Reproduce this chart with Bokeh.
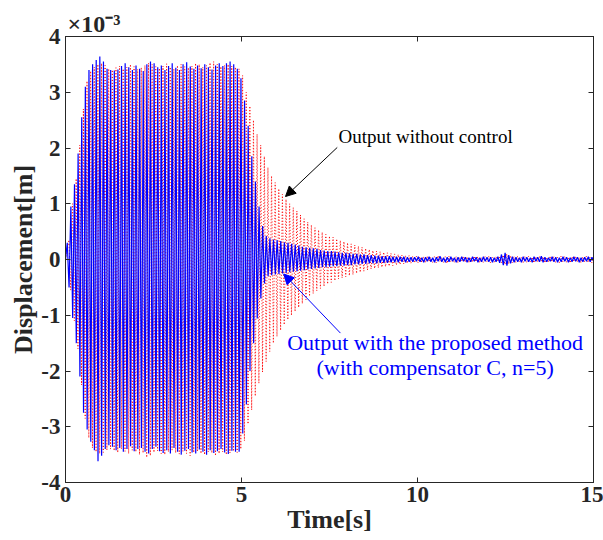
import numpy as np
from bokeh.plotting import figure
from bokeh.models import Range1d, LinearAxis, Label, Arrow, NormalHead, FixedTicker, Title
from bokeh.embed import file_html
from bokeh.resources import INLINE

# oscillation period [s] and time of first peak of each trace
period = 0.1028
blue_t0 = 0.05
red_t0 = 0.097

# per-cycle peak values, in units of 1e-3 m
blue_upper = [
    0.30, 0.95, 1.35, 1.90, 2.55, 3.10, 3.40, 3.50, 3.58, 3.64,
    3.55, 3.42, 3.40, 3.39, 3.41, 3.47, 3.52, 3.45, 3.40, 3.48,
    3.42, 3.38, 3.50, 3.55, 3.52, 3.45, 3.48, 3.40, 3.47, 3.52,
    3.44, 3.40, 3.50, 3.54, 3.46, 3.42, 3.48, 3.43, 3.50, 3.45,
    3.41, 3.48, 3.52, 3.47, 3.52, 3.55, 3.50, 3.42, 3.25, 2.85,
    2.40, 1.85, 1.40, 0.95, 0.60, 0.42, 0.38, 0.36, 0.35, 0.33,
    0.31, 0.30, 0.28, 0.27, 0.25, 0.23, 0.22, 0.21, 0.20, 0.19,
    0.17, 0.16, 0.15, 0.15, 0.14, 0.13, 0.12, 0.12, 0.11, 0.10,
    0.10, 0.09, 0.09, 0.08, 0.08, 0.07, 0.07, 0.06, 0.06, 0.06,
    0.05, 0.05, 0.05, 0.05, 0.04, 0.04, 0.04, 0.05, 0.03, 0.04,
    0.05, 0.03, 0.04, 0.06, 0.03, 0.04, 0.05, 0.03, 0.04, 0.05,
    0.04, 0.03, 0.05, 0.04, 0.03, 0.05, 0.04, 0.04, 0.03, 0.05,
    0.09, 0.12, 0.08, 0.05, 0.04, 0.03, 0.05, 0.04, 0.03, 0.05,
    0.04, 0.06, 0.04, 0.03, 0.05, 0.04, 0.03, 0.05, 0.04, 0.03,
    0.05, 0.04, 0.03, 0.04, 0.05, 0.04,
]
blue_lower = [
    -0.50, -1.05, -1.50, -2.10, -2.75, -3.05, -3.27, -3.42, -3.62, -3.52,
    -3.40, -3.33, -3.36, -3.42, -3.38, -3.45, -3.40, -3.35, -3.44, -3.40,
    -3.38, -3.45, -3.48, -3.40, -3.36, -3.44, -3.47, -3.42, -3.48, -3.38,
    -3.45, -3.50, -3.43, -3.40, -3.46, -3.48, -3.41, -3.45, -3.50, -3.42,
    -3.47, -3.44, -3.40, -3.46, -3.49, -3.43, -3.45, -3.45, -3.12, -2.60,
    -2.00, -1.50, -1.06, -0.70, -0.43, -0.30, -0.28, -0.27, -0.26, -0.25,
    -0.24, -0.23, -0.22, -0.21, -0.20, -0.19, -0.18, -0.17, -0.16, -0.15,
    -0.14, -0.14, -0.13, -0.12, -0.12, -0.11, -0.11, -0.10, -0.10, -0.09,
    -0.09, -0.08, -0.08, -0.07, -0.07, -0.07, -0.06, -0.06, -0.06, -0.05,
    -0.05, -0.05, -0.04, -0.05, -0.04, -0.04, -0.03, -0.04, -0.05, -0.03,
    -0.04, -0.05, -0.03, -0.04, -0.05, -0.04, -0.03, -0.05, -0.04, -0.03,
    -0.05, -0.04, -0.03, -0.05, -0.04, -0.03, -0.04, -0.05, -0.04, -0.06,
    -0.10, -0.11, -0.07, -0.05, -0.04, -0.05, -0.03, -0.04, -0.05, -0.03,
    -0.04, -0.05, -0.04, -0.03, -0.04, -0.05, -0.04, -0.03, -0.05, -0.04,
    -0.03, -0.05, -0.04, -0.03, -0.04, -0.03,
]
red_upper = [
    0.35, 1.00, 1.45, 2.05, 2.70, 3.20, 3.38, 3.45, 3.50, 3.52,
    3.48, 3.42, 3.40, 3.44, 3.47, 3.42, 3.45, 3.50, 3.46, 3.41,
    3.44, 3.48, 3.52, 3.50, 3.46, 3.43, 3.47, 3.51, 3.45, 3.42,
    3.48, 3.50, 3.46, 3.44, 3.47, 3.52, 3.50, 3.45, 3.48, 3.53,
    3.55, 3.50, 3.46, 3.48, 3.50, 3.47, 3.45, 3.42, 3.30, 3.00,
    2.75, 2.50, 2.25, 2.05, 1.85, 1.65, 1.50, 1.38, 1.27, 1.17,
    1.08, 1.00, 0.93, 0.87, 0.80, 0.73, 0.67, 0.62, 0.57, 0.53,
    0.49, 0.45, 0.42, 0.40, 0.37, 0.34, 0.32, 0.30, 0.28, 0.26,
    0.24, 0.22, 0.20, 0.18, 0.16, 0.15, 0.14, 0.13, 0.12, 0.11,
    0.10, 0.09, 0.08, 0.07, 0.07, 0.06, 0.06, 0.05, 0.05, 0.06,
    0.04, 0.05, 0.07, 0.04, 0.05, 0.06, 0.04, 0.05, 0.03, 0.06,
    0.05, 0.04, 0.06, 0.05, 0.04, 0.05, 0.06, 0.04, 0.05, 0.06,
    0.08, 0.10, 0.07, 0.05, 0.06, 0.04, 0.05, 0.06, 0.04, 0.05,
    0.06, 0.05, 0.04, 0.06, 0.05, 0.04, 0.06, 0.05, 0.04, 0.05,
    0.06, 0.04, 0.05, 0.06, 0.04, 0.05,
]
red_lower = [
    -0.55, -1.10, -1.60, -2.25, -2.85, -3.20, -3.38, -3.45, -3.48, -3.46,
    -3.42, -3.40, -3.43, -3.46, -3.40, -3.44, -3.48, -3.42, -3.45, -3.50,
    -3.47, -3.55, -3.52, -3.46, -3.43, -3.48, -3.50, -3.45, -3.42, -3.47,
    -3.49, -3.44, -3.48, -3.52, -3.46, -3.44, -3.48, -3.50, -3.45, -3.47,
    -3.52, -3.48, -3.45, -3.50, -3.47, -3.44, -3.46, -3.40, -3.25, -2.95,
    -2.70, -2.45, -2.22, -2.02, -1.83, -1.65, -1.50, -1.38, -1.27, -1.17,
    -1.08, -1.00, -0.93, -0.86, -0.79, -0.72, -0.66, -0.61, -0.56, -0.52,
    -0.48, -0.44, -0.41, -0.38, -0.35, -0.33, -0.31, -0.29, -0.27, -0.25,
    -0.23, -0.21, -0.19, -0.17, -0.16, -0.15, -0.14, -0.13, -0.12, -0.11,
    -0.10, -0.09, -0.08, -0.07, -0.07, -0.06, -0.06, -0.05, -0.06, -0.04,
    -0.05, -0.06, -0.04, -0.05, -0.07, -0.04, -0.05, -0.06, -0.04, -0.05,
    -0.06, -0.05, -0.04, -0.06, -0.05, -0.04, -0.06, -0.05, -0.04, -0.06,
    -0.09, -0.08, -0.06, -0.05, -0.04, -0.06, -0.05, -0.04, -0.06, -0.05,
    -0.04, -0.06, -0.05, -0.04, -0.05, -0.06, -0.04, -0.05, -0.06, -0.04,
    -0.05, -0.06, -0.04, -0.05, -0.06, -0.04,
]

x_ticks = [0, 5, 10, 15]
y_ticks = [-4, -3, -2, -1, 0, 1, 2, 3, 4]

label_without = "Output without control"
label_with_1 = "Output with the proposed method"
label_with_2 = "(with compensator C, n=5)"
exponent_text = "\u00d710\u207b\u00b3"


def wave(upper, lower, t0):
    n = min(len(upper), len(lower))
    xs, ys = [0.0], [0.0]
    for k in range(n):
        xs.append(t0 + k * period)
        ys.append(upper[k])
        xs.append(t0 + (k + 0.5) * period)
        ys.append(lower[k])
    return xs, ys


FONT = "Liberation Serif"
AX = "#262626"

p = figure(width=603, height=540, x_range=Range1d(0, 15), y_range=Range1d(-4, 4),
           output_backend="svg", toolbar_location=None,
           min_border_left=65, min_border_right=10, min_border_top=36, min_border_bottom=58)
p.background_fill_color = "white"
p.border_fill_color = "white"
p.grid.visible = False
p.outline_line_color = AX
p.outline_line_width = 1

rx, ry = wave(red_upper, red_lower, red_t0)
bx, by = wave(blue_upper, blue_lower, blue_t0)
p.line(rx, ry, line_color="#ff0000", line_width=1, line_dash="1 2")
p.line(bx, by, line_color="#0000ff", line_width=1.2)

for ax in (p.xaxis[0], p.yaxis[0]):
    ax.axis_line_color = AX
    ax.major_tick_line_color = AX
    ax.major_tick_in = 5
    ax.major_tick_out = 0
    ax.minor_tick_line_color = None
    ax.major_label_text_font = FONT
    ax.major_label_text_font_style = "bold"
    ax.major_label_text_font_size = "23px"
    ax.major_label_text_color = "#262626"
    ax.axis_label_text_font = FONT
    ax.axis_label_text_font_style = "bold"
    ax.axis_label_text_font_size = "26px"
    ax.axis_label_text_color = "#262626"

p.xaxis[0].ticker = FixedTicker(ticks=x_ticks)
p.yaxis[0].ticker = FixedTicker(ticks=y_ticks)
p.yaxis[0].major_label_overrides = {v: str(v) for v in y_ticks}
p.xaxis[0].axis_label = "Time[s]"
p.yaxis[0].axis_label = "Displacement[m]"
p.xaxis[0].major_label_standoff = 4
p.yaxis[0].major_label_standoff = 5
p.xaxis[0].axis_label_standoff = 0
p.yaxis[0].axis_label_standoff = 0

for loc, tk in (("right", y_ticks), ("above", x_ticks)):
    a = LinearAxis(ticker=FixedTicker(ticks=tk))
    a.axis_line_color = AX
    a.major_tick_line_color = AX
    a.major_tick_in = 5
    a.major_tick_out = 0
    a.minor_tick_line_color = None
    a.major_label_text_font_size = "0px"
    a.major_label_standoff = 0
    p.add_layout(a, loc)

# exponent label above the top-left corner of the frame
p.add_layout(Title(text=exponent_text, align="left", offset=2, standoff=0,
                   text_font=FONT, text_font_style="bold", text_font_size="24px",
                   text_color="#262626"), "above")

# annotations
p.add_layout(Label(x=10.23, y=2.2, text=label_without, text_font=FONT, text_font_size="19px",
                   text_color="black", text_align="center", text_baseline="middle"))
p.add_layout(Label(x=10.5, y=-1.48, text=label_with_1, text_font=FONT, text_font_size="22px",
                   text_color="#0000ff", text_align="center", text_baseline="middle"))
p.add_layout(Label(x=10.5, y=-1.93, text=label_with_2, text_font=FONT, text_font_size="22px",
                   text_color="#0000ff", text_align="center", text_baseline="middle"))

p.add_layout(Arrow(x_start=7.72, y_start=2.01, x_end=6.25, y_end=1.13, line_color="black",
                   line_width=1, end=NormalHead(size=10, fill_color="black", line_color="black")))
p.add_layout(Arrow(x_start=7.81, y_start=-1.32, x_end=6.20, y_end=-0.26, line_color="#0000ff",
                   line_width=1, end=NormalHead(size=10, fill_color="#0000ff", line_color="#0000ff")))

open("out.html", "w").write(file_html(p, INLINE))
